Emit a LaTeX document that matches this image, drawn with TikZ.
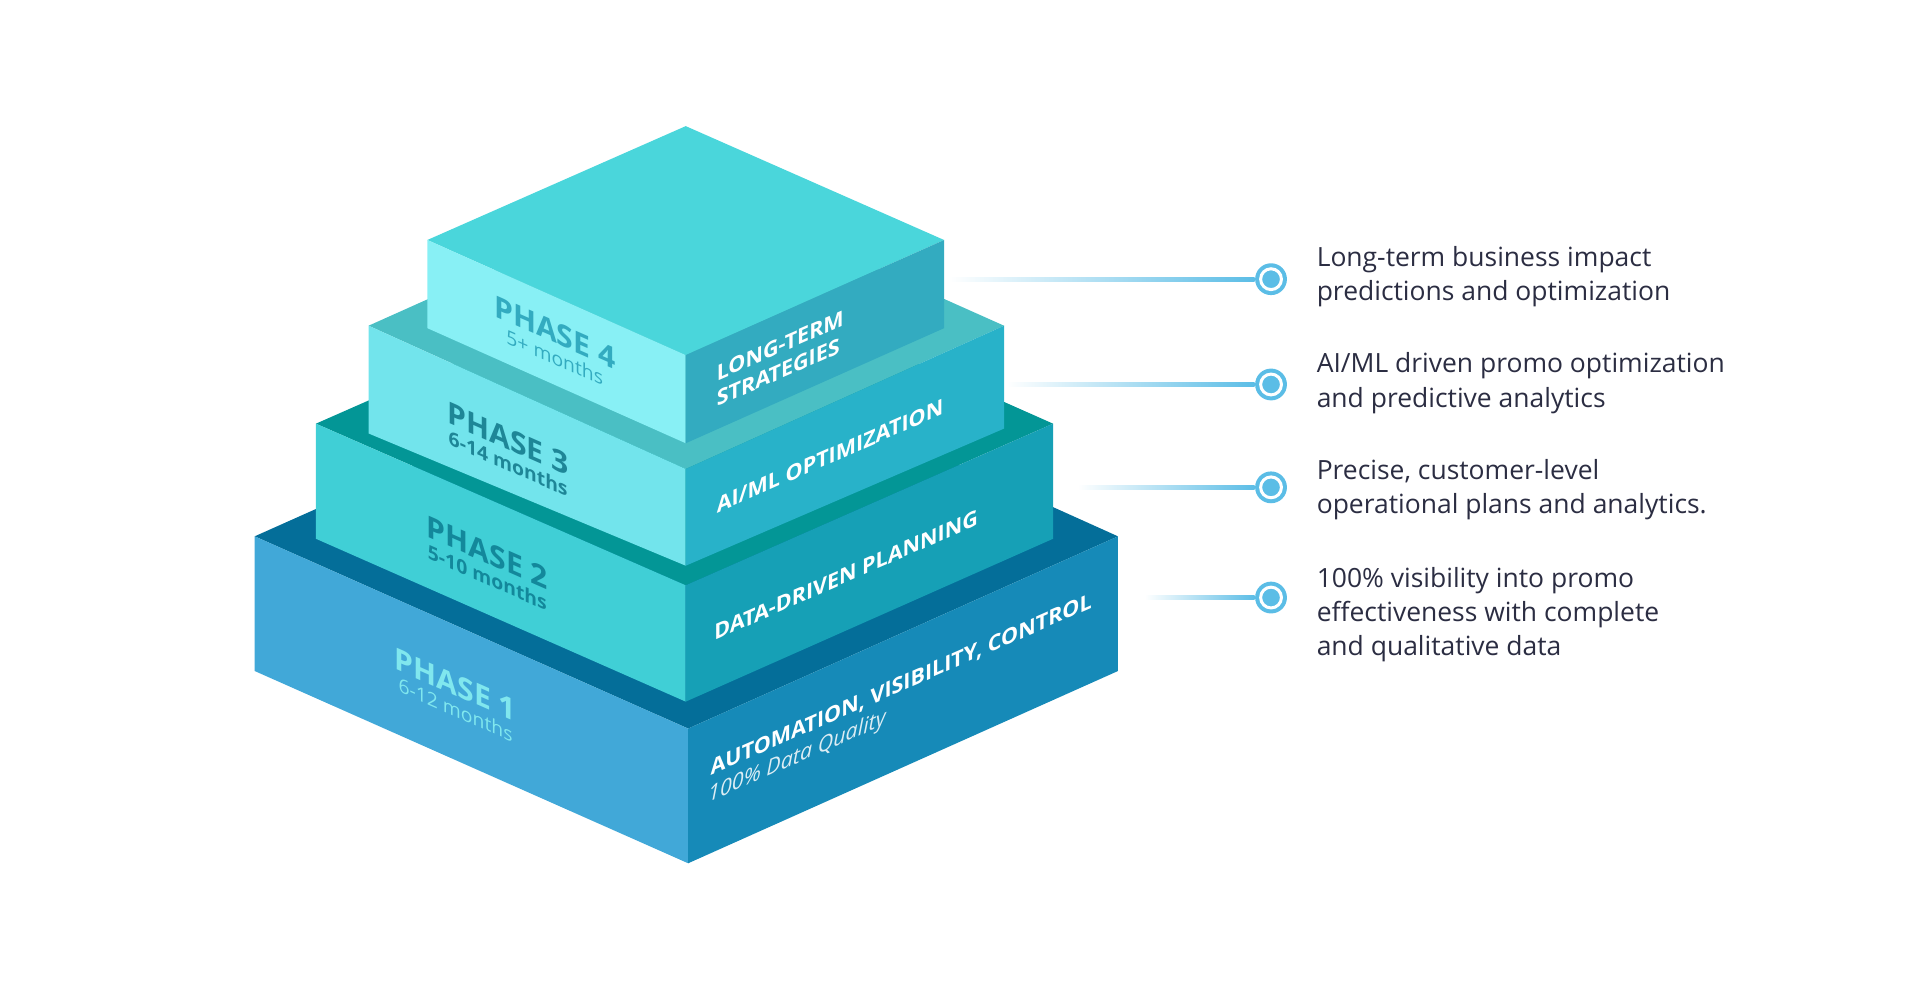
\documentclass[tikz,border=0pt]{standalone}
\usepackage{fontspec}
\setmainfont{Open Sans}
\usetikzlibrary{calc}
\definecolor{aL}{HTML}{41A8D8}\definecolor{aR}{HTML}{168AB8}\definecolor{aT}{HTML}{046E99}
\definecolor{bL}{HTML}{40CFD6}\definecolor{bR}{HTML}{16A0B6}\definecolor{bT}{HTML}{039696}
\definecolor{cL}{HTML}{72E4EC}\definecolor{cR}{HTML}{28B2C9}\definecolor{cT}{HTML}{4ABFC4}
\definecolor{dL}{HTML}{88F0F5}\definecolor{dR}{HTML}{33ABC0}\definecolor{dT}{HTML}{4AD6DB}
\definecolor{dot}{HTML}{5BBDE6}\definecolor{txt}{HTML}{2B2D42}
\begin{document}
\begin{tikzpicture}[x=0.02cm,y=-0.02cm,
  lf/.style={cm={1,-0.44,0,1,(0,0)},font=\bfseries, align=center, inner sep=0},
  rf/.style={cm={1,0.44,0,1,(0,0)},font=\bfseries, align=left, inner sep=0, text=white},
  desc/.style={anchor=west, align=left, inner sep=0, text=txt, font=\fontsize{12.3}{16}\selectfont},
  dotn/.style={circle, minimum size=26*0.569pt, inner sep=0, fill=dot},
  dotin/.style={circle, minimum size=17*0.569pt, inner sep=0, fill=dot, draw=white, line width=1.4pt},
]
\useasboundingbox (0,0) rectangle (1568,808.5);
% Tier 1
\fill[aT] (208,438) -- (562,280) -- (913,438) -- (562,595) -- cycle;
\fill[aL] (208,438) -- (562,595) -- (562,705) -- (208,548) -- cycle;
\fill[aR] (562,595) -- (913,438) -- (913,548) -- (562,705) -- cycle;
% Tier 2
\fill[bT] (258,346) -- (560,213) -- (860,346) -- (560,478) -- cycle;
\fill[bL] (258,346) -- (560,478) -- (560,573) -- (258,440) -- cycle;
\fill[bR] (560,478) -- (860,346) -- (860,440) -- (560,573) -- cycle;
% Tier 3
\fill[cT] (301,266) -- (560,150) -- (820,266) -- (560,383) -- cycle;
\fill[cL] (301,266) -- (560,383) -- (560,462) -- (301,354) -- cycle;
\fill[cR] (560,383) -- (820,266) -- (820,350) -- (560,462) -- cycle;
% Tier 4
\fill[dT] (349,196) -- (560,103) -- (771,196) -- (560,290) -- cycle;
\fill[dL] (349,196) -- (560,290) -- (560,362) -- (349,268) -- cycle;
\fill[dR] (560,290) -- (771,196) -- (771,268) -- (560,362) -- cycle;
% left face labels
\node[lf, text=dR] (p4) at (453,280) {\fontsize{14}{14}\selectfont PHASE 4\\[-2pt]\fontsize{9}{9}\selectfont\mdseries 5+ months};
\node[lf, text=cR!75!black] (p3) at (415,367) {\fontsize{14}{14}\selectfont PHASE 3\\[-2pt]\fontsize{9}{9}\selectfont 6-14 months};
\node[lf, text=bR!85!black] (p2) at (398,460) {\fontsize{14}{14}\selectfont PHASE 2\\[-2pt]\fontsize{9}{9}\selectfont 5-10 months};
\node[lf, text=cL!90!white] (p1) at (372,568) {\fontsize{14}{14}\selectfont PHASE 1\\[-2pt]\fontsize{9}{9}\selectfont\mdseries 6-12 months};
% right face labels
\node[rf, anchor=south west] (r4) at (585,333) {\fontsize{10}{12}\selectfont LONG-TERM\\STRATEGIES};
\node[rf, anchor=south west] (r3) at (585,420) {\fontsize{10}{12}\selectfont AI/ML OPTIMIZATION};
\node[rf, anchor=south west] (r2) at (583,524) {\fontsize{10}{12}\selectfont DATA-DRIVEN PLANNING};
\node[rf, anchor=south west] (r1) at (580,636) {\fontsize{10}{12}\selectfont AUTOMATION, VISIBILITY, CONTROL};
\node[rf, anchor=south west, font=\itshape, text=white!85!aR] (r1b) at (578,660) {\fontsize{10}{12}\selectfont 100\% Data Quality};
% connectors
\foreach \i/\xs/\yy in {1/935/488, 2/880/398, 3/822/314, 4/775/228}{
  \coordinate (s\i) at (\xs,\yy);
  \node[dotn] (d\i) at (1038,\yy) {};
  \shade[left color=white, right color=dot] ($(s\i)+(0,-1.6)$) rectangle ($(d\i.west)+(0,1.6)$);
  \node[dotin] at (d\i) {};
}
\node[desc] (t4) at (1075,226) {Long-term business impact\\predictions and optimization};
\node[desc] (t3) at (1075,313) {AI/ML driven promo optimization\\and predictive analytics};
\node[desc] (t2) at (1075,400) {Precise, customer-level\\operational plans and analytics.};
\node[desc] (t1) at (1075,502) {100\% visibility into promo\\effectiveness with complete\\and qualitative data};
\end{tikzpicture}
\end{document}
